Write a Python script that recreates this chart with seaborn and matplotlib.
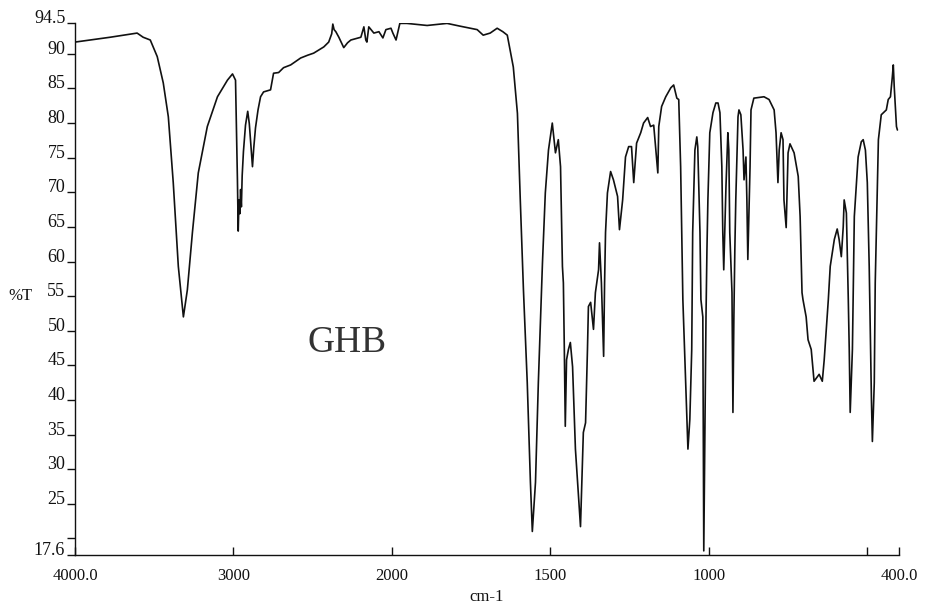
import numpy as np
import pandas as pd
import matplotlib
matplotlib.use("Agg")
import matplotlib.pyplot as plt
import seaborn as sns

# ---- data ----
wavenumber = [4000, 3778, 3608, 3570, 3525, 3481, 3443, 3411, 3380, 3348, 3316, 3291, 3259, 3222,
              3165, 3101, 3038, 3006, 2987, 2975, 2970, 2965, 2960, 2955, 2950, 2945, 2937, 2924,
              2910, 2900, 2892, 2880, 2872, 2861, 2845, 2829, 2810, 2766, 2747, 2715, 2684, 2639,
              2576, 2532, 2494, 2430, 2399, 2380, 2373, 2365, 2354, 2335, 2304, 2280, 2259, 2196,
              2177, 2165, 2158, 2146, 2114, 2082, 2057, 2038, 2006, 1997, 1987, 1975, 1953, 1889,
              1826, 1785, 1731, 1712, 1690, 1668, 1650, 1636, 1617, 1604, 1595, 1585, 1573, 1563,
              1557, 1547, 1538, 1525, 1516, 1506, 1494, 1484, 1475, 1468, 1462, 1459, 1456, 1453,
              1449, 1443, 1437, 1430, 1421, 1405, 1396, 1389, 1383, 1380, 1373, 1364, 1358, 1348,
              1345, 1339, 1332, 1329, 1326, 1320, 1310, 1301, 1288, 1282, 1272, 1263, 1253, 1244,
              1237, 1228, 1215, 1206, 1193, 1184, 1174, 1161, 1158, 1149, 1136, 1120, 1111, 1101,
              1095, 1089, 1082, 1073, 1066, 1060, 1054, 1051, 1044, 1038, 1035, 1028, 1025, 1019,
              1016, 1013, 1009, 1006, 1003, 997, 987, 978, 971, 965, 959, 956, 953, 946,
              940, 937, 934, 927, 924, 921, 918, 915, 908, 905, 899, 892, 889, 883,
              880, 877, 870, 867, 858, 826, 810, 794, 788, 782, 778, 772, 766, 763,
              756, 750, 744, 731, 718, 712, 706, 703, 693, 687, 677, 668, 652, 642,
              636, 623, 617, 604, 595, 589, 582, 576, 573, 566, 560, 557, 554, 547,
              544, 541, 529, 519, 513, 506, 500, 494, 487, 484, 478, 475, 465, 456,
              440, 434, 427, 421, 418, 415, 408, 405]
transmittance = [91.7, 92.4, 93.0, 92.4, 92.0, 89.6, 85.8, 80.9, 71.4, 59.3, 52.0, 55.9, 64.2, 72.8,
                 79.5, 83.8, 86.2, 87.1, 86.2, 71.8, 64.4, 68.9, 66.9, 70.4, 67.9, 72.4, 75.9, 79.7,
                 81.7, 79.9, 77.4, 73.7, 76.4, 79.3, 81.9, 83.8, 84.5, 84.8, 87.2, 87.3, 88.0, 88.4,
                 89.4, 89.8, 90.1, 91.0, 91.7, 92.9, 94.3, 93.5, 93.2, 92.4, 90.9, 91.6, 92.0, 92.4,
                 93.9, 92.0, 91.7, 93.9, 93.0, 93.2, 92.3, 93.5, 93.7, 93.0, 92.0, 94.4, 94.4, 94.1,
                 94.4, 94.0, 93.5, 92.7, 93.0, 93.7, 93.2, 92.7, 88.1, 81.4, 68.9, 55.9, 42.5, 28.1,
                 21.0, 28.1, 42.5, 59.8, 69.9, 76.1, 80.0, 75.7, 77.6, 73.7, 59.3, 56.9, 47.3, 36.2,
                 45.8, 47.3, 48.3, 44.8, 32.9, 21.7, 35.3, 36.7, 47.3, 53.5, 54.1, 50.2, 55.5, 58.8,
                 62.7, 56.9, 46.3, 56.9, 64.2, 69.9, 73.0, 71.8, 69.4, 64.6, 68.9, 75.1, 76.6, 76.6,
                 71.4, 77.1, 78.6, 80.0, 80.8, 79.5, 79.7, 72.8, 79.5, 82.4, 83.8, 85.1, 85.5, 83.6,
                 83.4, 73.7, 54.5, 42.5, 32.9, 37.2, 47.3, 64.2, 76.1, 78.0, 76.6, 64.2, 54.5, 52.0,
                 18.2, 32.9, 52.0, 61.7, 68.9, 78.6, 81.5, 82.9, 82.9, 81.5, 73.7, 64.2, 58.8, 70.8,
                 78.6, 76.1, 64.2, 55.5, 38.2, 52.0, 61.7, 68.9, 80.9, 81.9, 81.2, 76.1, 71.8, 75.1,
                 68.9, 60.3, 73.7, 81.9, 83.6, 83.8, 83.4, 81.9, 78.6, 71.4, 76.1, 78.6, 77.6, 68.9,
                 64.9, 75.7, 77.0, 75.7, 72.3, 66.5, 55.5, 54.5, 52.0, 48.7, 47.3, 42.7, 43.7, 42.7,
                 45.8, 54.5, 59.3, 63.2, 64.7, 63.2, 60.7, 65.0, 68.9, 67.0, 54.5, 47.3, 38.2, 47.3,
                 56.9, 66.5, 75.1, 77.3, 77.6, 76.1, 71.4, 59.3, 40.1, 34.0, 42.5, 56.9, 77.6, 81.2,
                 81.9, 83.4, 83.8, 86.7, 88.4, 85.2, 79.5, 79.0]

x_ticks = [4000, 3000, 2000, 1500, 1000, 500, 400]
x_ticklabels = ["4000.0", "3000", "2000", "1500", "1000", "", "400.0"]
y_ticks = [94.5, 90, 85, 80, 75, 70, 65, 60, 55, 50, 45, 40, 35, 30, 25, 20, 17.6]
y_ticklabels = ["94.5", "90", "85", "80", "75", "70", "65", "60", "55", "50", "45", "40",
                "35", "30", "25", "", "17.6"]
sample_label = "GHB"
x_title = "cm-1"
y_title = "%T"

df = pd.DataFrame({"wn": wavenumber, "T": transmittance})

sns.set_style("white")
plt.rcParams["font.family"] = ["Liberation Serif", "DejaVu Serif"]

fig = plt.figure(figsize=(9.26, 6.08), dpi=100)
ax = fig.add_axes([75 / 926, 1 - 555 / 608, (899 - 75) / 926, (555 - 22.7) / 608])


def fwd(w):
    w = np.asarray(w, dtype=float)
    return np.where(w >= 2000, 0.5 * (w - 2000), w - 2000)


def inv(p):
    p = np.asarray(p, dtype=float)
    return np.where(p >= 0, 2000 + 2 * p, 2000 + p)


ax.set_xscale("function", functions=(fwd, inv))

sns.lineplot(data=df, x="wn", y="T", sort=False, estimator=None, color="#111111",
             linewidth=1.2, ax=ax)

ax.set_xlim(4000, 400)
ax.set_ylim(17.6, 94.5)

ax.set_xticks(x_ticks)
ax.set_xticklabels(x_ticklabels, fontsize=12)
ax.minorticks_off()
ax.set_yticks(y_ticks)
ax.set_yticklabels(y_ticklabels, fontsize=13)
for lbl in ax.get_yticklabels():
    lbl.set_verticalalignment("baseline")

ax.tick_params(axis="x", bottom=True, direction="in", length=6, width=1, pad=9,
               colors="#111111")
ax.tick_params(axis="y", left=True, direction="out", length=6, width=1, pad=1,
               colors="#111111")

for s in ["top", "right"]:
    ax.spines[s].set_visible(False)
for s in ["left", "bottom"]:
    ax.spines[s].set_color("#111111")
    ax.spines[s].set_linewidth(1.0)

ax.set_xlabel("")
ax.set_ylabel("")
fig.text(487 / 926, 1 - 597 / 608, x_title, ha="center", va="center", fontsize=12,
         color="#111111")
fig.text(20 / 926, 1 - 296 / 608, y_title, ha="center", va="center", fontsize=12,
         color="#111111")

ax.text(2284, 46.9, sample_label, ha="center", va="baseline", fontsize=27, color="#333333")

fig.savefig("out.png", dpi=100)
